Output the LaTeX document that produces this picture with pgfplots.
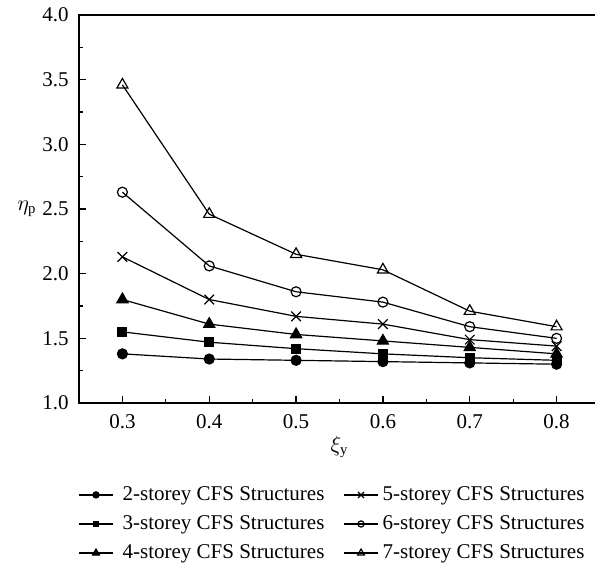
\documentclass[border=0pt]{standalone}
\usepackage{fontspec}
\setmainfont{Liberation Serif}
\usepackage{pgfplots}
\pgfplotsset{compat=1.18}

\begin{document}
\fontsize{10.5bp}{12.6bp}\selectfont
\begin{tikzpicture}
% visible frame of the figure (the right end of the axis box lies beyond it)
\useasboundingbox (-39.5bp,-83bp) rectangle (258bp,201.5bp);
\clip (-39.5bp,-83bp) rectangle (258bp,201.5bp);
\begin{axis}[
  scale only axis,
  width=260.5bp, height=194bp,
  xmin=0.25, xmax=0.85,
  ymin=1.0, ymax=4.0,
  xtick={0.3,0.4,...,0.8},
  ytick={1.0,1.5,...,4.0},
  minor x tick num=1,
  minor y tick num=1,
  xtick pos=bottom, ytick pos=left,
  tick align=inside,
  major tick length=3.5bp,
  minor tick length=2bp,
  axis line style={line width=0.65bp},
  every tick/.style={line width=0.6bp, black},
  /pgf/number format/assume math mode=true,
  /pgf/number format/fixed,
  /pgf/number format/fixed zerofill,
  /pgf/number format/precision=1,
  xticklabel style={yshift=-2bp},
  yticklabel style={xshift=-1.5bp},
  xlabel={$\xi_{\mathrm{y}}$},
  ylabel={$\eta_{\mathrm{p}}$},
  every axis x label/.style={at={(axis description cs:0.5,0)}, anchor=center, yshift=-22bp},
  every axis y label/.style={at={(axis description cs:0,0.5)}, anchor=center, xshift=-26bp},
  every axis plot/.append style={black, line width=0.6bp},
  every mark/.append style={solid, line width=0.5bp},
  legend columns=3,
  transpose legend,
  legend cell align=left,
  legend image code/.code={
    \draw[mark repeat=2, mark phase=2, every mark/.append style={scale=0.62}]
      plot coordinates {(0bp,0bp) (8.5bp,0bp) (17bp,0bp)};},
  legend style={
    draw=none, fill=none,
    at={(0,0)}, anchor=north west,
    xshift=-0.5bp, yshift=-40.5bp,
    inner sep=0pt,
    nodes={inner sep=1bp},
    row sep=4bp,
    /tikz/column 1/.style={column sep=3.5bp},
    /tikz/column 2/.style={column sep=8.5bp},
    /tikz/column 3/.style={column sep=1bp},
  },
]
\addplot[mark=*, mark size=2.5bp] coordinates {
  (0.3,1.38) (0.4,1.34) (0.5,1.33) (0.6,1.32) (0.7,1.31) (0.8,1.30)};
\addlegendentry{2-storey CFS Structures}
\addplot[mark=square*, mark size=2.2bp] coordinates {
  (0.3,1.55) (0.4,1.47) (0.5,1.42) (0.6,1.38) (0.7,1.35) (0.8,1.33)};
\addlegendentry{3-storey CFS Structures}
\addplot[mark=triangle*, mark size=3.2bp] coordinates {
  (0.3,1.80) (0.4,1.61) (0.5,1.53) (0.6,1.48) (0.7,1.43) (0.8,1.38)};
\addlegendentry{4-storey CFS Structures}
\addplot[mark=x, mark size=3.4bp] coordinates {
  (0.3,2.13) (0.4,1.80) (0.5,1.67) (0.6,1.61) (0.7,1.49) (0.8,1.44)};
\addlegendentry{5-storey CFS Structures}
\addplot[mark=o, mark size=2.5bp, mark options={fill=white}] coordinates {
  (0.3,2.63) (0.4,2.06) (0.5,1.86) (0.6,1.78) (0.7,1.59) (0.8,1.50)};
\addlegendentry{6-storey CFS Structures}
\addplot[mark=triangle, mark size=3.2bp, mark options={fill=white}] coordinates {
  (0.3,3.46) (0.4,2.46) (0.5,2.15) (0.6,2.03) (0.7,1.71) (0.8,1.59)};
\addlegendentry{7-storey CFS Structures}
\end{axis}
\end{tikzpicture}
\end{document}
